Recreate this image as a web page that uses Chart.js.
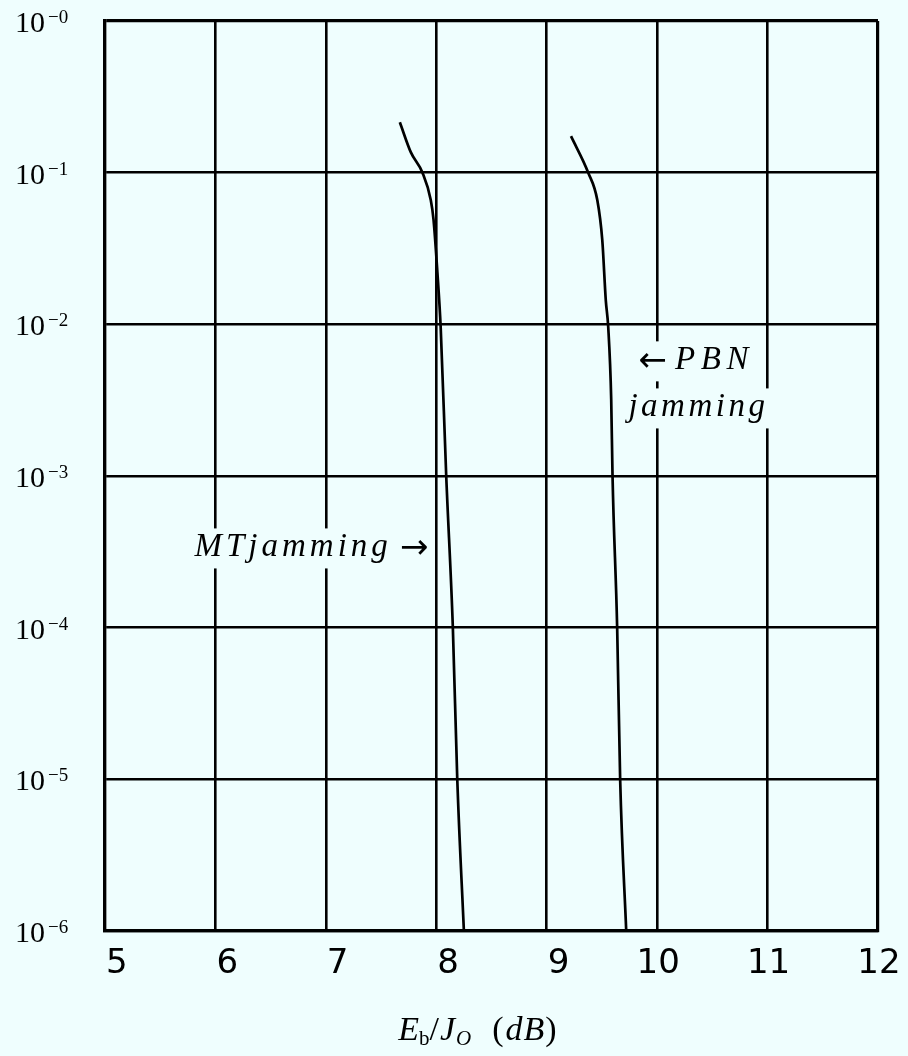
<!DOCTYPE html>
<html>
<head>
<meta charset="utf-8">
<script src="https://cdn.jsdelivr.net/npm/chart.js@4.4.0/dist/chart.umd.min.js"></script>
<style>
    html, body { margin: 0; padding: 0; background: #effefe; }
</style>
</head>
<body>
<canvas id="chart" width="908" height="1056"></canvas>
<script>
// axis ticks
var X_TICKS = [5, 6, 7, 8, 9, 10, 11, 12];
var Y_TICKS = [1, 1e-1, 1e-2, 1e-3, 1e-4, 1e-5, 1e-6];
var Y_TICK_EXP = ["0", "1", "2", "3", "4", "5", "6"];

// MT jamming curve
var MT_X = [7.67, 7.77, 7.875, 7.95, 7.975, 8.01, 8.04, 8.09, 8.15, 8.19, 8.25];
var MT_Y = [0.215, 0.136, 0.1, 0.066, 0.049, 0.022, 0.0095, 1e-3, 1e-4, 1e-5, 1e-6];

// PBN jamming curve
var PBN_X = [9.22, 9.376, 9.458, 9.503, 9.535, 9.557, 9.584, 9.596, 9.638, 9.665, 9.72];
var PBN_Y = [0.174, 0.1, 0.066, 0.036, 0.0144, 0.0096, 0.0032, 1e-3, 1e-4, 1e-5, 1e-6];

var BG = "#effefe";
var INK = "#000000";

function toPoints(xs, ys) {
    var pts = [];
    for (var i = 0; i < xs.length; i++)
        pts.push({ x: xs[i], y: ys[i] });
    return pts;
}

// width of a list of text runs, each with its own font and letter spacing
function measureRuns(ctx, runs) {
    var w = 0;
    runs.forEach(function (r) {
        ctx.font = r.font;
        for (var i = 0; i < r.t.length; i++)
            w += ctx.measureText(r.t[i]).width + (r.ls || 0);
    });
    return w;
}

function drawRuns(ctx, runs, x, y) {
    var cx = x;
    runs.forEach(function (r) {
        ctx.font = r.font;
        for (var i = 0; i < r.t.length; i++) {
            ctx.fillText(r.t[i], cx, y + (r.dy || 0));
            cx += ctx.measureText(r.t[i]).width + (r.ls || 0);
        }
    });
}

// label with a background box that hides the grid behind it
function drawLabel(ctx, runs, x, yMid, align) {
    var w = measureRuns(ctx, runs);
    var left = align == "right" ? x - w : x;
    ctx.fillStyle = BG;
    ctx.fillRect(left - 4, yMid - 20, w + 6, 40);
    ctx.fillStyle = INK;
    ctx.textAlign = "left";
    ctx.textBaseline = "alphabetic";
    drawRuns(ctx, runs, left, yMid + 8);
}

var extrasPlugin = {
    id: "extras",
    afterDatasetsDraw: function (chart) {
        var ctx = chart.ctx;
        var x = chart.scales.x, y = chart.scales.y;
        var it = "italic 33px 'Liberation Serif'";
        var arrow = "34px 'DejaVu Sans'";
        ctx.save();

        drawLabel(ctx, [{ t: "MTjamming", font: it, ls: 4 }, { t: " ", font: it }, { t: "→", font: arrow, dy: 2 }],
            x.getPixelForValue(7.93), y.getPixelForValue(3.33e-4), "right");
        drawLabel(ctx, [{ t: "←", font: arrow, dy: 2 }, { t: " ", font: it }, { t: "PBN", font: it, ls: 5.5 }],
            x.getPixelForValue(9.83), y.getPixelForValue(5.7e-3), "left");
        drawLabel(ctx, [{ t: "jamming", font: it, ls: 3.5 }],
            x.getPixelForValue(9.74), y.getPixelForValue(2.79e-3), "left");

        // y tick labels 10^-n
        ctx.fillStyle = INK;
        ctx.textBaseline = "alphabetic";
        for (var i = 0; i < Y_TICKS.length; i++) {
            var py = y.getPixelForValue(Y_TICKS[i]);
            ctx.font = "30px 'Liberation Serif'";
            ctx.textAlign = "right";
            ctx.fillText("10", 45, py + 11);
            ctx.font = "19px 'Liberation Serif'";
            ctx.textAlign = "left";
            ctx.fillText("\u2212" + Y_TICK_EXP[i], 48, py + 2);
        }

        // x axis title E_b/J_O (dB)
        var tf = "italic 34px 'Liberation Serif'";
        var uf = "34px 'Liberation Serif'";
        var title = [
            { t: "E", font: tf },
            { t: "b", font: "21px 'Liberation Serif'", dy: 5 },
            { t: "/", font: uf, ls: 1 },
            { t: "J", font: tf, ls: 1 },
            { t: "O", font: "italic 21px 'Liberation Serif'", dy: 5 },
            { t: "  (", font: uf, ls: 2 },
            { t: "dB", font: tf, ls: 1 },
            { t: ")", font: uf }
        ];
        ctx.textAlign = "left";
        var tw = measureRuns(ctx, title);
        var cxm = (chart.chartArea.left + chart.chartArea.right) / 2 - 14;
        drawRuns(ctx, title, cxm - tw / 2, 1040);
        ctx.restore();
    }
};

function edgeWidth(c) {
    return (c.index == 0 || c.index == c.scale.ticks.length - 1) ? 3.2 : 2.6;
}

var chart = new Chart(document.getElementById("chart"), {
    type: "line",
    data: {
        datasets: [
            {
                label: "MT jamming",
                data: toPoints(MT_X, MT_Y),
                borderColor: INK,
                borderWidth: 2.7,
                pointRadius: 0,
                cubicInterpolationMode: "monotone",
                fill: false
            },
            {
                label: "PBN jamming",
                data: toPoints(PBN_X, PBN_Y),
                borderColor: INK,
                borderWidth: 2.7,
                pointRadius: 0,
                cubicInterpolationMode: "monotone",
                fill: false
            }
        ]
    },
    options: {
        responsive: false,
        animation: false,
        layout: { padding: { left: 105, right: 30, top: 21, bottom: 65 } },
        plugins: {
            legend: { display: false },
            tooltip: { enabled: false }
        },
        scales: {
            x: {
                type: "linear",
                min: 5,
                max: 12,
                afterBuildTicks: function (s) {
                    s.ticks = X_TICKS.map(function (v) { return { value: v }; });
                },
                afterFit: function (s) {
                    // fixed axis height, no extra side padding for the end labels
                    s.height = 60;
                    s.paddingLeft = 0;
                    s.paddingRight = 0;
                },
                grid: { color: INK, lineWidth: edgeWidth, drawTicks: false },
                border: { color: INK, width: 3.2 },
                ticks: {
                    color: INK,
                    padding: 13,
                    labelOffset: 1,
                    maxRotation: 0,
                    font: { family: "DejaVu Sans", size: 34 },
                    // single digit labels sit a little right of their grid line
                    callback: function (v) { return v < 10 ? "  " + v : "" + v; }
                }
            },
            y: {
                type: "logarithmic",
                min: 1e-6,
                max: 1,
                afterBuildTicks: function (s) {
                    s.ticks = Y_TICKS.map(function (v) { return { value: v }; });
                },
                grid: { color: INK, lineWidth: edgeWidth, drawTicks: false },
                border: { color: INK, width: 3.2 },
                ticks: { display: false }
            }
        }
    },
    plugins: [extrasPlugin]
});
</script>
</body>
</html>
